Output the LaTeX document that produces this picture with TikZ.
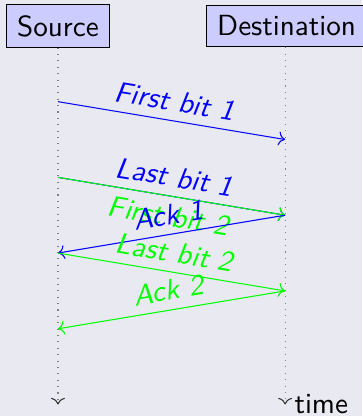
\documentclass[tikz,border=0pt]{standalone}
\usepackage{xcolor}
\usetikzlibrary{arrows.meta,positioning,calc}
\definecolor{bgcol}{RGB}{233,233,242}

\begin{document}
\begin{tikzpicture}[font=\fontsize{10.95}{13.6}\selectfont\sffamily,
  party/.style={draw,fill=blue!20,inner sep=3.9pt},
  life/.style={dotted,gray,-{To[black!80]}},
  lbl/.style={midway,sloped,font=\fontsize{10.95}{13.6}\selectfont\sffamily\slshape}]
\fill[bgcol] (-0.766,0.343) rectangle (4.016,-5.152);
\useasboundingbox (-0.766,0.343) rectangle (4.016,-5.152);
\node[party] (src) at (0,0) {Source};
\node[party] (dst) at (3.02,0) {Destination};
\coordinate (srcend) at (0,-5);
\coordinate (dstend) at (3,-5);
\draw[life] (src) -- (srcend);
\draw[life] (dst.south -| dstend) -- (dstend) node[right,black] (time) {time};
% event points on both lifelines
\foreach \i/\y in {0/-1,1/-1.5,2/-2,3/-2.5,4/-3,5/-3.5,6/-4} {
  \coordinate (s\i) at (0,\y); \coordinate (d\i) at (3,\y);
}
\draw[->,blue] (s0) -- node[lbl,above]{First bit 1} (d1);
\draw[->,blue] (s2) -- node[lbl,above]{Last bit 1} (d3);
\draw[->,green,yshift=-0.35pt] (s2) -- node[lbl,below]{First bit 2} (d3);
\draw[->,blue] (d3) -- node[lbl,above]{Ack 1} (s4);
\draw[->,green] (s4) -- node[lbl,above]{Last bit 2} (d5);
\draw[->,green] (d5) -- node[lbl,above]{Ack 2} (s6);
\end{tikzpicture}
\end{document}
